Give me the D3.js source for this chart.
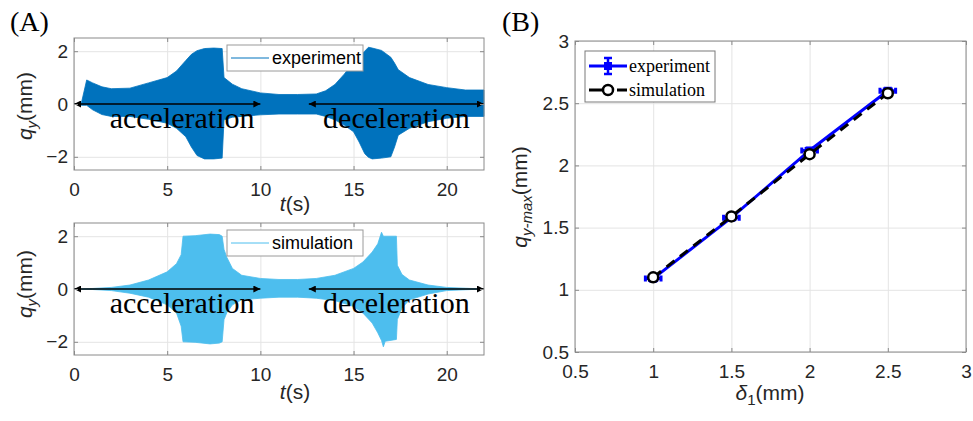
<!DOCTYPE html>
<html>
<head>
<meta charset="utf-8">
<script src="https://cdn.jsdelivr.net/npm/d3@7"></script>
<style>
  body { margin: 0; background: #fff; }
  svg { display: block; font-family: "Liberation Sans", Arial, sans-serif; }
</style>
</head>
<body>
<svg width="973" height="421"></svg>
<script>
// (A) envelope of q_y over time (mm)
const expTime  = [0, 0.4, 0.68, 1, 1.5, 2, 3, 4, 5, 5.5, 6, 6.3, 6.6, 7, 7.5, 7.95, 8.05, 8.5, 9, 10, 11, 12, 13, 13.5, 14, 14.5, 15, 15.3, 15.6, 15.8, 16, 16.5, 17, 17.2, 17.4, 18, 19, 20, 21, 22];
const expUpper = [0, 0.05, 0.91, 0.8, 0.65, 0.58, 0.6, 0.8, 1.0, 1.25, 1.65, 1.88, 2.02, 2.1, 2.12, 2.1, 1.0, 0.75, 0.58, 0.42, 0.36, 0.36, 0.38, 0.5, 0.74, 1.13, 1.58, 1.8, 2.0, 2.15, 2.12, 2.03, 1.77, 1.55, 1.3, 1.0, 0.74, 0.62, 0.53, 0.53];
const expLower = [0, -0.05, -0.05, -0.22, -0.4, -0.47, -0.47, -0.58, -0.73, -0.92, -1.24, -1.63, -1.95, -2.08, -2.08, -2.05, -0.6, -0.5, -0.47, -0.41, -0.38, -0.38, -0.38, -0.47, -0.6, -0.8, -1.05, -1.44, -1.88, -2.02, -2.08, -2.05, -2.0, -1.63, -1.18, -0.92, -0.67, -0.54, -0.47, -0.47];

const simTime  = [0, 1, 2, 3, 4, 5, 5.5, 5.75, 5.85, 6.5, 7.3, 7.8, 7.95, 8.05, 8.2, 8.5, 9, 10, 11, 12, 13, 14, 15, 15.5, 16, 16.3, 16.5, 16.6, 16.7, 17.3, 17.35, 17.6, 18, 19, 20, 21, 22];
const simUpper = [0, 0.02, 0.06, 0.15, 0.34, 0.65, 0.96, 1.3, 2.0, 2.02, 2.08, 2.06, 2.0, 1.5, 1.2, 0.78, 0.52, 0.4, 0.36, 0.36, 0.4, 0.52, 0.78, 1.02, 1.4, 1.71, 2.15, 2.0, 2.0, 2.0, 0.9, 0.55, 0.34, 0.15, 0.06, 0.03, 0];
const simLower = [0, -0.02, -0.06, -0.16, -0.31, -0.6, -0.91, -1.41, -2.0, -2.02, -2.08, -2.05, -2.0, -1.16, -0.9, -0.6, -0.41, -0.35, -0.31, -0.31, -0.35, -0.44, -0.66, -0.91, -1.29, -1.66, -1.95, -2.19, -1.98, -1.91, -1.16, -0.72, -0.41, -0.19, -0.06, -0.03, 0];

const timeTicks = [0, 5, 10, 15, 20];
const qyTicks = [-2, 0, 2];
const arrowSpans = [[0, 10], [12.6, 22]];
const phaseNames = ['acceleration', 'deceleration'];
const phaseCenters = [5.8, 17.3];

// (B) maximum amplitude against delta_1 (mm)
const delta = [1, 1.5, 2, 2.5];
const expMax = [1.09, 1.58, 2.12, 2.60];
const simMax = [1.10, 1.59, 2.09, 2.58];
const expErrX = [0.05, 0.05, 0.05, 0.05];
const expErrY = [0.015, 0.015, 0.015, 0.015];
const bTicks = [0.5, 1, 1.5, 2, 2.5, 3];

const svg = d3.select('svg');
const tickColor = '#262626';
const boxColor = '#8a8a8a';
const gridColor = '#e4e4e4';

svg.append('defs').append('marker')
  .attr('id', 'head').attr('viewBox', '0 0 10 10')
  .attr('refX', 10).attr('refY', 5)
  .attr('markerWidth', 9).attr('markerHeight', 7)
  .attr('markerUnits', 'userSpaceOnUse')
  .attr('orient', 'auto-start-reverse')
  .append('path').attr('d', 'M0,0L10,5L0,10Z').attr('fill', '#000');

// box, grid, inward ticks and labels, matlab style
function frame(g, x, y, xt, yt, w, h) {
  g.append('g').attr('transform', 'translate(0,' + h + ')')
    .call(d3.axisBottom(x).tickValues(xt).tickSize(-h).tickFormat(''))
    .call(function(a) { a.select('.domain').remove(); a.selectAll('line').attr('stroke', gridColor); });
  g.append('g')
    .call(d3.axisLeft(y).tickValues(yt).tickSize(-w).tickFormat(''))
    .call(function(a) { a.select('.domain').remove(); a.selectAll('line').attr('stroke', gridColor); });
}

function ticks(g, x, y, xt, yt, w, h, fmt) {
  var style = function(a) {
    a.select('.domain').remove();
    a.selectAll('line').attr('stroke', boxColor);
    a.selectAll('text').attr('fill', tickColor).attr('font-size', 19)
      .attr('font-family', '"Liberation Sans", Arial, sans-serif');
  };
  g.append('g').attr('transform', 'translate(0,' + h + ')')
    .call(d3.axisBottom(x).tickValues(xt).tickSizeInner(-4).tickSizeOuter(0).tickPadding(13).tickFormat(fmt)).call(style);
  g.append('g')
    .call(d3.axisTop(x).tickValues(xt).tickSizeInner(-4).tickSizeOuter(0).tickFormat('')).call(style);
  g.append('g')
    .call(d3.axisLeft(y).tickValues(yt).tickSizeInner(-4).tickSizeOuter(0).tickPadding(6).tickFormat(fmt)).call(style);
  g.append('g').attr('transform', 'translate(' + w + ',0)')
    .call(d3.axisRight(y).tickValues(yt).tickSizeInner(-4).tickSizeOuter(0).tickFormat('')).call(style);
  g.append('rect').attr('width', w).attr('height', h)
    .attr('fill', 'none').attr('stroke', boxColor);
}

// ---- panel A: two time histories
function timePanel(top, time, upper, lower, color, name, ylabelY, xlabelY) {
  var w = 410, h = 132;
  var g = svg.append('g').attr('transform', 'translate(74,' + top + ')');
  var x = d3.scaleLinear().domain([0, 22]).range([0, w]);
  var y = d3.scaleLinear().domain([-2.5, 2.5]).range([h, 0]);
  frame(g, x, y, timeTicks, qyTicks, w, h);

  var rows = time.map(function(t, i) { return { t: t, hi: upper[i], lo: lower[i] }; });
  g.append('path').datum(rows)
    .attr('d', d3.area().x(function(d) { return x(d.t); })
      .y0(function(d) { return y(d.lo); }).y1(function(d) { return y(d.hi); }))
    .attr('fill', color).attr('stroke', color).attr('stroke-width', 0.8);

  arrowSpans.forEach(function(s, i) {
    g.append('line')
      .attr('x1', x(s[0])).attr('x2', x(s[1])).attr('y1', y(0)).attr('y2', y(0))
      .attr('stroke', '#000').attr('stroke-width', 1.3)
      .attr('marker-start', 'url(#head)').attr('marker-end', 'url(#head)');
    g.append('text').text(phaseNames[i])
      .attr('x', x(phaseCenters[i])).attr('y', y(-0.92))
      .attr('text-anchor', 'middle').attr('font-size', 30)
      .attr('font-family', '"Liberation Serif", "Times New Roman", serif');
  });

  ticks(g, x, y, timeTicks, qyTicks, w, h, d3.format('d'));

  // legend
  var lg = g.append('g').attr('transform', 'translate(153,' + 7 + ')');
  lg.append('rect').attr('width', 136).attr('height', 26)
    .attr('fill', '#fff').attr('stroke', '#9a9a9a');
  lg.append('line').attr('x1', 4).attr('x2', 42).attr('y1', 13).attr('y2', 13)
    .attr('stroke', color).attr('stroke-width', 1);
  lg.append('text').text(name).attr('x', 45).attr('y', 19)
    .attr('font-size', 18).attr('fill', '#000');

  var yl = svg.append('text').attr('transform', 'translate(32,' + ylabelY + ') rotate(-90)')
    .attr('text-anchor', 'middle').attr('font-size', 21).attr('fill', tickColor);
  yl.append('tspan').attr('font-style', 'italic').text('q');
  yl.append('tspan').attr('font-style', 'italic').attr('font-size', 15).attr('dy', 5).text('y');
  yl.append('tspan').attr('dy', -5).text('(mm)');

  var xl = svg.append('text').attr('x', 295).attr('y', xlabelY)
    .attr('text-anchor', 'middle').attr('font-size', 21).attr('fill', tickColor);
  xl.append('tspan').attr('font-style', 'italic').text('t');
  xl.append('tspan').text('(s)');
}

timePanel(38, expTime, expUpper, expLower, '#0072BD', 'experiment', 106, 211);
timePanel(223, simTime, simUpper, simLower, '#4DBEEE', 'simulation', 284, 399);

// ---- panel B: peak amplitude
(function() {
  var w = 391, h = 311;
  var g = svg.append('g').attr('transform', 'translate(575,41)');
  var x = d3.scaleLinear().domain([0.5, 3]).range([0, w]);
  var y = d3.scaleLinear().domain([0.5, 3]).range([h, 0]);
  frame(g, x, y, bTicks, bTicks, w, h);

  var expPts = delta.map(function(d, i) { return { x: d, y: expMax[i], ex: expErrX[i], ey: expErrY[i] }; });
  var simPts = delta.map(function(d, i) { return { x: d, y: simMax[i] }; });
  var line = d3.line().x(function(d) { return x(d.x); }).y(function(d) { return y(d.y); });

  var blue = '#0000FF';
  g.append('path').datum(expPts).attr('d', line)
    .attr('fill', 'none').attr('stroke', blue).attr('stroke-width', 3);
  expPts.forEach(function(p) {
    var cx = x(p.x), cy = y(p.y);
    var x0 = x(p.x - p.ex), x1 = x(p.x + p.ex), y0 = y(p.y - p.ey), y1 = y(p.y + p.ey);
    g.append('path')
      .attr('d', 'M' + x0 + ',' + cy + 'H' + x1 +
        'M' + x0 + ',' + (cy - 3) + 'V' + (cy + 3) + 'M' + x1 + ',' + (cy - 3) + 'V' + (cy + 3) +
        'M' + cx + ',' + y0 + 'V' + y1 +
        'M' + (cx - 5) + ',' + y0 + 'H' + (cx + 5) + 'M' + (cx - 5) + ',' + y1 + 'H' + (cx + 5))
      .attr('stroke', blue).attr('stroke-width', 3).attr('fill', 'none');
    g.append('rect').attr('x', cx - 4).attr('y', cy - 4).attr('width', 8).attr('height', 8).attr('fill', blue);
  });

  g.append('path').datum(simPts).attr('d', line)
    .attr('fill', 'none').attr('stroke', '#000').attr('stroke-width', 3)
    .attr('stroke-dasharray', '10,7');
  g.selectAll('circle.sim').data(simPts).enter().append('circle')
    .attr('cx', function(d) { return x(d.x); }).attr('cy', function(d) { return y(d.y); })
    .attr('r', 5).attr('fill', '#fff').attr('stroke', '#000').attr('stroke-width', 2.5);

  ticks(g, x, y, bTicks, bTicks, w, h, function(v) { return String(v); });

  // legend
  var lg = g.append('g').attr('transform', 'translate(10,10)');
  lg.append('rect').attr('width', 130).attr('height', 51)
    .attr('fill', '#fff').attr('stroke', '#7a7a7a');
  var sf = '"Liberation Serif", "Times New Roman", serif';
  lg.append('line').attr('x1', 4).attr('x2', 42).attr('y1', 15).attr('y2', 15)
    .attr('stroke', blue).attr('stroke-width', 3);
  lg.append('path').attr('d', 'M23,7V23M19,7H27M19,23H27')
    .attr('stroke', blue).attr('stroke-width', 2.5).attr('fill', 'none');
  lg.append('rect').attr('x', 19).attr('y', 11).attr('width', 8).attr('height', 8).attr('fill', blue);
  lg.append('text').text('experiment').attr('x', 44).attr('y', 21)
    .attr('font-size', 18).attr('font-family', sf);
  lg.append('line').attr('x1', 4).attr('x2', 42).attr('y1', 39).attr('y2', 39)
    .attr('stroke', '#000').attr('stroke-width', 3).attr('stroke-dasharray', '15,13');
  lg.append('circle').attr('cx', 23).attr('cy', 39).attr('r', 5)
    .attr('fill', '#fff').attr('stroke', '#000').attr('stroke-width', 2.5);
  lg.append('text').text('simulation').attr('x', 44).attr('y', 45)
    .attr('font-size', 18).attr('font-family', sf);

  var yl = svg.append('text').attr('transform', 'translate(527,197) rotate(-90)')
    .attr('text-anchor', 'middle').attr('font-size', 21).attr('fill', tickColor);
  yl.append('tspan').attr('font-style', 'italic').text('q');
  yl.append('tspan').attr('font-style', 'italic').attr('font-size', 15).attr('dy', 5).text('y-max');
  yl.append('tspan').attr('dy', -5).text('(mm)');

  var xl = svg.append('text').attr('x', 770).attr('y', 400)
    .attr('text-anchor', 'middle').attr('font-size', 21).attr('fill', tickColor);
  xl.append('tspan').attr('font-style', 'italic').text('δ');
  xl.append('tspan').attr('font-size', 15).attr('dy', 5).text('1');
  xl.append('tspan').attr('dy', -5).text('(mm)');
})();

// panel letters
svg.append('text').text('(A)').attr('x', 10).attr('y', 31)
  .attr('font-size', 28).attr('font-family', '"Liberation Serif", "Times New Roman", serif');
svg.append('text').text('(B)').attr('x', 502).attr('y', 31)
  .attr('font-size', 28).attr('font-family', '"Liberation Serif", "Times New Roman", serif');
</script>
</body>
</html>
